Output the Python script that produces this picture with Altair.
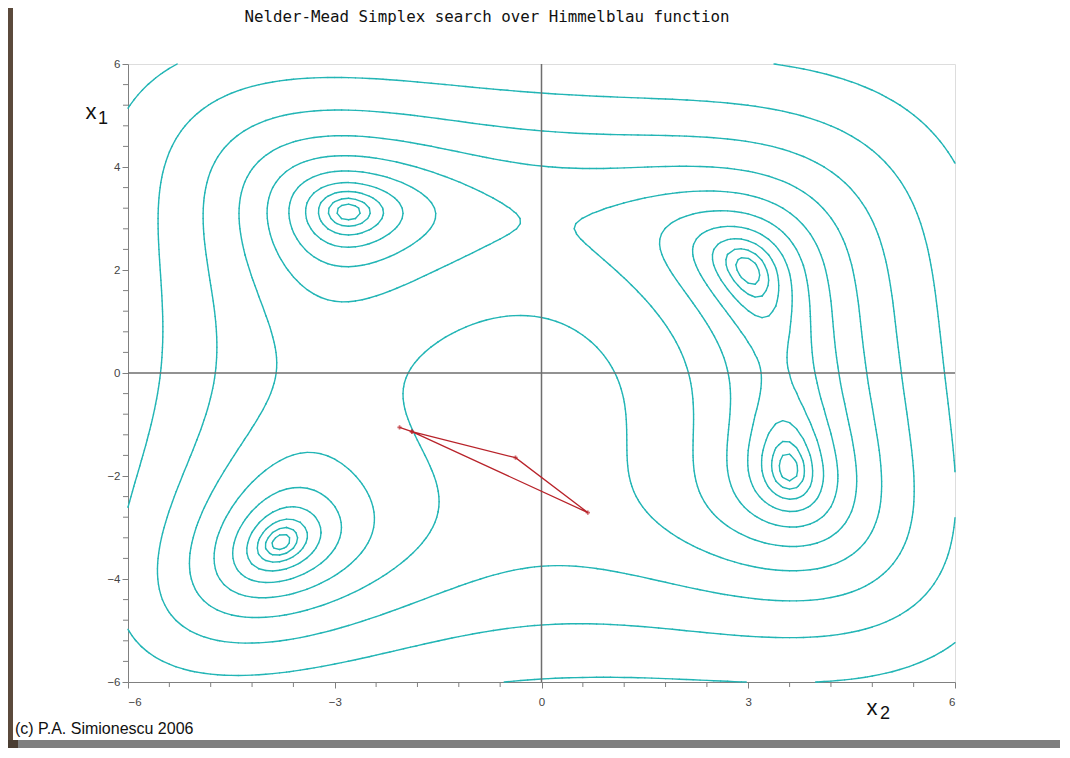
import numpy as np
import pandas as pd
import altair as alt

alt.data_transformers.disable_max_rows()

# ---------------- data ----------------
title_text = "Nelder-Mead Simplex search over Himmelblau function"
footer_text = "(c) P.A. Simionescu 2006"

# contour levels of the Himmelblau function
levels = [1.0, 3.0, 7.1, 15.3, 31.9, 65.3, 132.5, 268.0, 540.0, 1089.0]

# simplex path (horizontal = x2 axis value, vertical = x1 axis value)
simplex_h = [-2.06, -1.88, -0.377, 0.672, -1.88]
simplex_v = [-1.055, -1.14, -1.645, -2.71, -1.14]

x_ticks = [-6, -3, 0, 3, 6]
y_ticks = [-6, -4, -2, 0, 2, 4, 6]
x_minor = [-5.4, -4.8, -4.2, -3.6, -2.4, -1.8, -1.2, -0.6, 0.6, 1.2, 1.8, 2.4, 3.6, 4.2, 4.8, 5.4]
y_minor = [-5.6, -5.2, -4.8, -4.4, -3.6, -3.2, -2.8, -2.4, -1.6, -1.2, -0.8, -0.4,
           0.4, 0.8, 1.2, 1.6, 2.4, 2.8, 3.2, 3.6, 4.4, 4.8, 5.2, 5.6]

# ---------------- contour extraction (marching squares) ----------------
def himmelblau(a, b):
    return (a ** 2 + b - 11) ** 2 + (a + b ** 2 - 7) ** 2

n = 121
gx = np.linspace(-6, 6, n)
gy = np.linspace(-6, 6, n)
GX, GY = np.meshgrid(gx, gy)
Z = himmelblau(GX, GY)

rows = []
for L in levels:
    for j in range(n - 1):
        for i in range(n - 1):
            z0 = Z[j, i]; z1 = Z[j, i + 1]; z2 = Z[j + 1, i + 1]; z3 = Z[j + 1, i]
            idx = (z0 > L) * 1 | (z1 > L) * 2 | (z2 > L) * 4 | (z3 > L) * 8
            if idx == 0 or idx == 15:
                continue
            x0, x1 = gx[i], gx[i + 1]
            y0, y1 = gy[j], gy[j + 1]

            def e(k):
                if k == 0:
                    t = (L - z0) / (z1 - z0); return (x0 + t * (x1 - x0), y0)
                if k == 1:
                    t = (L - z1) / (z2 - z1); return (x1, y0 + t * (y1 - y0))
                if k == 2:
                    t = (L - z3) / (z2 - z3); return (x0 + t * (x1 - x0), y1)
                t = (L - z0) / (z3 - z0); return (x0, y0 + t * (y1 - y0))

            c = (z0 + z1 + z2 + z3) / 4.0
            table = {
                1: [(3, 0)], 2: [(0, 1)], 3: [(3, 1)], 4: [(1, 2)],
                5: [(0, 1), (2, 3)] if c > L else [(3, 0), (1, 2)],
                6: [(0, 2)], 7: [(3, 2)], 8: [(2, 3)], 9: [(0, 2)],
                10: [(3, 0), (1, 2)] if c > L else [(0, 1), (2, 3)],
                11: [(1, 2)], 12: [(3, 1)], 13: [(0, 1)], 14: [(3, 0)],
            }
            for a, b in table[idx]:
                pa = e(a); pb = e(b)
                rows.append((round(pa[0], 4), round(pa[1], 4), round(pb[0], 4), round(pb[1], 4), L))

seg_df = pd.DataFrame(rows, columns=["x", "y", "x2", "y2", "level"])
simplex_df = pd.DataFrame({"h": simplex_h, "v": simplex_v, "o": list(range(len(simplex_h)))})
xminor_df = pd.DataFrame({"t": x_minor})
yminor_df = pd.DataFrame({"t": y_minor})
one = pd.DataFrame({"a": [0]})

# ---------------- chart ----------------
W, H = 827, 618
PAD_L, PAD_T, PAD_R, PAD_B = 120, 56, 105, 66
TEAL = "#22B5B5"
GRAY = "#808080"
RED = "#B8232A"

xscale = alt.Scale(domain=[-6, 6], nice=False, zero=False)
yscale = alt.Scale(domain=[-6, 6], nice=False, zero=False)

xaxis = alt.Axis(values=x_ticks, format="d", title=None, grid=False, tickSize=6, tickColor=GRAY,
                 domainColor=GRAY, labelColor="#444444", labelFontSize=11.5,
                 labelFont="Liberation Sans", labelPadding=8)
yaxis = alt.Axis(values=y_ticks, format="d", title=None, grid=False, tickSize=6, tickColor=GRAY,
                 domainColor=GRAY, labelColor="#444444", labelFontSize=11.5,
                 labelFont="Liberation Sans", labelPadding=2)

frame_bottom = alt.Chart(one).mark_rect(color="#7f7f7f").encode(
    x=alt.value(-110), x2=alt.value(W + PAD_R), y=alt.value(676), y2=alt.value(H + PAD_B))
frame_left = alt.Chart(one).mark_rect(color="#5b4a3c").encode(
    x=alt.value(-PAD_L), x2=alt.value(-PAD_L + 5), y=alt.value(-PAD_T), y2=alt.value(H + PAD_B))
frame_corner = alt.Chart(one).mark_rect(color="#4a3d32").encode(
    x=alt.value(-PAD_L), x2=alt.value(-110), y=alt.value(676), y2=alt.value(H + PAD_B))

contours = alt.Chart(seg_df).mark_rule(color=TEAL, strokeWidth=1.4, strokeCap="round").encode(
    x=alt.X("x:Q", scale=xscale, axis=xaxis),
    y=alt.Y("y:Q", scale=yscale, axis=yaxis),
    x2="x2:Q", y2="y2:Q",
)

zero_v = alt.Chart(one).mark_rule(color="#6e6e6e", strokeWidth=1.5).encode(x=alt.datum(0))
zero_h = alt.Chart(one).mark_rule(color="#6e6e6e", strokeWidth=1.5).encode(y=alt.datum(0))

xminor = alt.Chart(xminor_df).mark_rule(color=GRAY, strokeWidth=1).encode(
    x=alt.X("t:Q", scale=xscale), y=alt.value(H), y2=alt.value(H + 5))
yminor = alt.Chart(yminor_df).mark_rule(color=GRAY, strokeWidth=1).encode(
    y=alt.Y("t:Q", scale=yscale), x=alt.value(0), x2=alt.value(-5))

path = alt.Chart(simplex_df).mark_line(color=RED, strokeWidth=1.3).encode(
    x=alt.X("h:Q", scale=xscale), y=alt.Y("v:Q", scale=yscale), order="o:Q")
pts = alt.Chart(simplex_df).mark_point(color=RED, shape="cross", size=18, filled=True).encode(
    x=alt.X("h:Q", scale=xscale), y=alt.Y("v:Q", scale=yscale))

title = alt.Chart(one).mark_text(text=title_text, font="DejaVu Sans Mono", fontSize=15.8,
                                 color="#111111", align="center", baseline="middle").encode(
    x=alt.value(359), y=alt.value(-47))
x1a = alt.Chart(one).mark_text(text="x", font="Liberation Sans", fontSize=22, color="#111111",
                               align="center", baseline="middle").encode(x=alt.value(-37), y=alt.value(48))
x1b = alt.Chart(one).mark_text(text="1", font="Liberation Sans", fontSize=18, color="#111111",
                               align="center", baseline="middle").encode(x=alt.value(-25), y=alt.value(55))
x2a = alt.Chart(one).mark_text(text="x", font="Liberation Sans", fontSize=22, color="#111111",
                               align="center", baseline="middle").encode(x=alt.value(744), y=alt.value(644))
x2b = alt.Chart(one).mark_text(text="2", font="Liberation Sans", fontSize=18, color="#111111",
                               align="center", baseline="middle").encode(x=alt.value(757), y=alt.value(650))
footer = alt.Chart(one).mark_text(text=footer_text, font="Liberation Sans", fontSize=16,
                                  color="#111111", align="left", baseline="middle").encode(
    x=alt.value(-113), y=alt.value(665))

chart = alt.layer(
    frame_bottom, frame_left, frame_corner,
    contours, zero_v, zero_h, xminor, yminor, path, pts,
    title, x1a, x1b, x2a, x2b, footer,
).properties(
    width=W, height=H,
    padding={"left": PAD_L, "top": PAD_T, "right": PAD_R, "bottom": PAD_B},
    autosize=alt.AutoSizeParams(type="none"),
).configure_view(stroke=GRAY, strokeWidth=1).configure(background="white")

chart.save("out.html", embed_options={"renderer": "svg", "actions": False})
